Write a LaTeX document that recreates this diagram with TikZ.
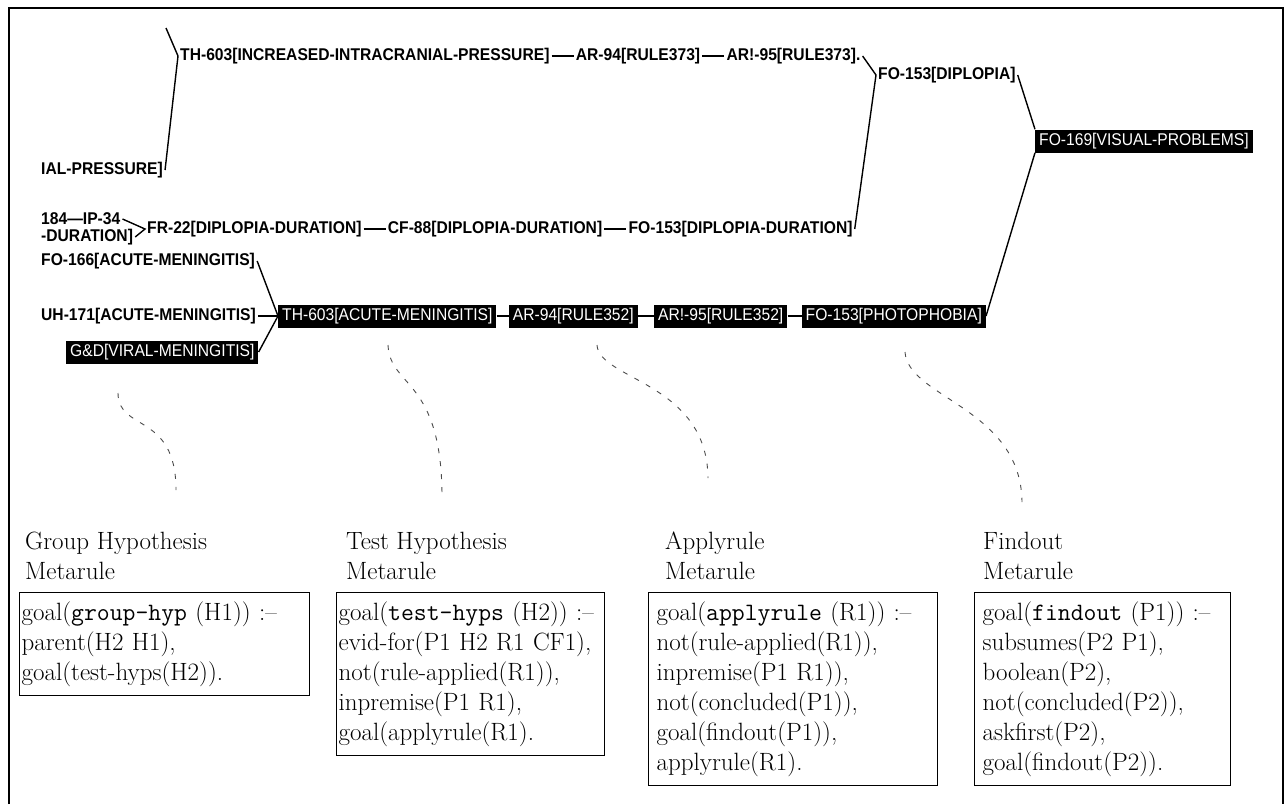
\documentclass[tikz,border=0pt]{standalone}
\usepackage{fontspec}
\newfontfamily\graphfont[FakeStretch=0.92]{Liberation Sans}
\usetikzlibrary{positioning}

\begin{document}
\begin{tikzpicture}[x=1pt,y=-1pt,
  lbl/.style={font=\graphfont\bfseries\fontsize{17}{18}\selectfont,
              inner xsep=2pt, inner ysep=1pt},
  hot/.style={fill=black, text=white, font=\graphfont\fontsize{17}{18}\selectfont,
              inner xsep=4pt, inner ysep=0pt, minimum height=23pt},
  link/.style={line width=1.4pt},
  trace/.style={black!70, line width=0.9pt, dash pattern=on 5pt off 8pt},
  title/.style={font=\fontsize{25}{30}\selectfont, align=left,
                inner sep=0pt, anchor=north west},
  rulebox/.style={draw, line width=1.3pt, font=\fontsize{25}{30}\selectfont,
                  align=left, anchor=north west, inner ysep=9pt}]

\useasboundingbox (0,0) rectangle (1286,804);

% Page frame (open at the bottom)
\draw[line width=1.2pt] (9,804) -- (9,8) -- (1283,8) -- (1283,804);

%% ---- trace of the reasoning chain --------------------------------
% upper row
\node[lbl, anchor=west] (th1) at (178,56) {TH-603[INCREASED-INTRACRANIAL-PRESSURE]};
\node[lbl, right=22pt of th1] (ar1) {AR-94[RULE373]};
\node[lbl, right=22pt of ar1] (ar2) {AR!-95[RULE373].};
\node[lbl, anchor=west] (fo1) at (876,75) {FO-153[DIPLOPIA]};
\node[hot, anchor=west] (fo169) at (1035,141) {FO-169[VISUAL-PROBLEMS]};
\node[lbl, anchor=west] (ial) at (39,170) {IAL-PRESSURE]};
\coordinate (upin) at (166,28);

% middle row
\node[lbl, anchor=west] (ip) at (39,219) {184—IP-34};
\node[lbl, anchor=west] (dur) at (39,237) {-DURATION]};
\node[lbl, anchor=west] (fr22) at (145,229) {FR-22[DIPLOPIA-DURATION]};
\node[lbl, right=22pt of fr22] (cf88) {CF-88[DIPLOPIA-DURATION]};
\node[lbl, right=22pt of cf88] (fo2) {FO-153[DIPLOPIA-DURATION]};

% lower row
\node[lbl, anchor=west] (fo166) at (39,261) {FO-166[ACUTE-MENINGITIS]};
\node[lbl, anchor=west] (uh171) at (39,316) {UH-171[ACUTE-MENINGITIS]};
\node[hot, anchor=west] (th2) at (278,316) {TH-603[ACUTE-MENINGITIS]};
\node[hot, right=12pt of th2] (ar3) {AR-94[RULE352]};
\node[hot, right=16pt of ar3] (ar4) {AR!-95[RULE352]};
\node[hot, right=14pt of ar4] (fo3) {FO-153[PHOTOPHOBIA]};
\node[hot, anchor=west] (gd) at (66,352) {G\&D[VIRAL-MENINGITIS]};

% connectors
\draw[link] (ial.east) -- (th1.west) -- (upin);
\draw[link] (th1) -- (ar1) -- (ar2);
\draw[link] (ar2.east) -- (fo1.west) -- (fo2.east);
\draw[link] (fo1.east) -- (fo169.north west);
\draw[link] (fo169.south west) -- (fo3.east);
\draw[link] (ip.east) -- (fr22.west) -- (dur.east);
\draw[link] (fr22) -- (cf88) -- (fo2);
\draw[link] (fo166.east) -- (th2.west) -- (gd.east);
\draw[link] (uh171) -- (th2);
\draw[link] (th2) -- (ar3) -- (ar4) -- (fo3);

%% ---- metarules ---------------------------------------------------
\node[title] (lblgroup) at (25,532) {Group Hypothesis\\Metarule};
\node[title] (lbltest) at (346,532) {Test Hypothesis\\Metarule};
\node[title] (lblapply) at (665,532) {Applyrule\\Metarule};
\node[title] (lblfind) at (983,532) {Findout\\Metarule};

\node[rulebox, inner xsep=2pt, text width=286pt] (rgroup) at (19,592)
  {goal(\texttt{group-hyp} (H1)) :--\\
   parent(H2 H1),\\
   goal(test-hyps(H2)).};
\node[rulebox, inner xsep=2pt, text width=264pt] (rtest) at (336,592)
  {goal(\texttt{test-hyps} (H2)) :--\\
   evid-for(P1 H2 R1 CF1),\\
   not(rule-applied(R1)),\\
   inpremise(P1 R1),\\
   goal(applyrule(R1).};
\node[rulebox, inner xsep=8pt, text width=273pt] (rapply) at (648,592)
  {goal(\texttt{applyrule} (R1)) :--\\
   not(rule-applied(R1)),\\
   inpremise(P1 R1)),\\
   not(concluded(P1)),\\
   goal(findout(P1)),\\
   applyrule(R1).};
\node[rulebox, inner xsep=8pt, text width=240pt] (rfind) at (974,592)
  {goal(\texttt{findout} (P1)) :--\\
   subsumes(P2 P1),\\
   boolean(P2),\\
   not(concluded(P2)),\\
   askfirst(P2),\\
   goal(findout(P2)).};

% dashed pointers from the trace down to the metarules
\coordinate (s1) at (118,393);  \coordinate (e1) at (176,490);
\coordinate (s2) at (388,345);  \coordinate (e2) at (442,497);
\coordinate (s3) at (597,345);  \coordinate (e3) at (708,478);
\coordinate (s4) at (905,352);  \coordinate (e4) at (1022,502);
\draw[trace] (s1) .. controls (118,432) and (176,412) .. (e1);
\draw[trace] (s2) .. controls (390,388) and (442,378) .. (e2);
\draw[trace] (s3) .. controls (599,380) and (707,382) .. (e3);
\draw[trace] (s4) .. controls (908,398) and (1021,408) .. (e4);

\end{tikzpicture}
\end{document}
